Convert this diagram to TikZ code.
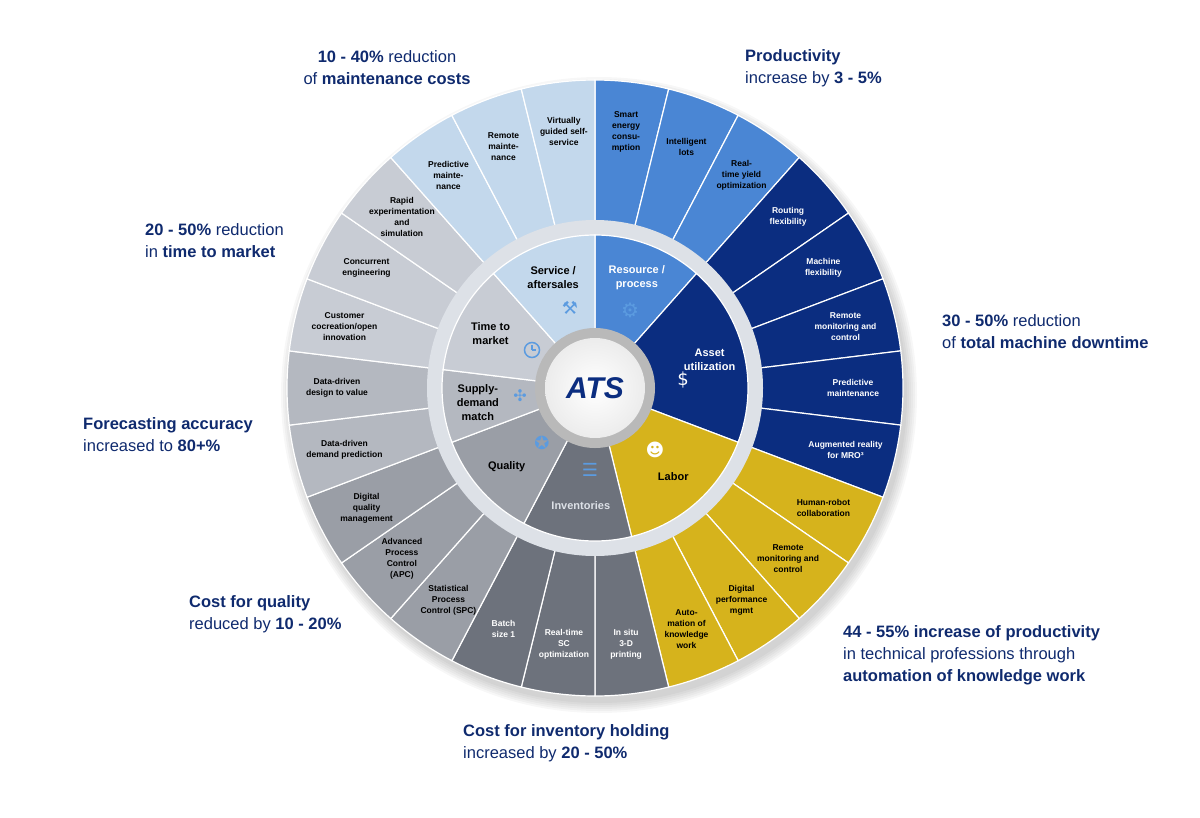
\documentclass[tikz,border=0pt]{standalone}
\usepackage{fontspec}
\setmainfont{Liberation Sans}
\newfontfamily\sym{DejaVu Sans}
\usetikzlibrary{calc}
\definecolor{resc}{HTML}{4A86D4}
\definecolor{asset}{HTML}{0B2D80}
\definecolor{labor}{HTML}{D6B31C}
\definecolor{inv}{HTML}{6D727C}
\definecolor{qual}{HTML}{9A9EA6}
\definecolor{supply}{HTML}{B4B8C0}
\definecolor{tmk}{HTML}{C8CCD4}
\definecolor{serv}{HTML}{C3D8EC}
\definecolor{ringc}{HTML}{DDE1E7}
\definecolor{navy}{HTML}{0F2A6E}
\definecolor{iconb}{HTML}{5B9BE0}
\tikzset{
 seglab/.style={font=\bfseries\fontsize{8.5}{11}\selectfont,align=center,inner sep=0pt},
 catlab/.style={font=\bfseries\fontsize{11}{14}\selectfont,align=center,inner sep=0pt},
 note/.style={font=\fontsize{16.5}{22}\selectfont,text=navy,align=left,anchor=west,inner sep=0pt},
 sep/.style={draw=white,line width=1.2pt}
}
\begin{document}
\begin{tikzpicture}[x=1pt,y=-1pt]
\useasboundingbox (0,0) rectangle (1200,817);
\coordinate (C) at (595,388);
\def\st{13.846}
% shadow
\foreach \k in {1,...,6}
  \fill[black,opacity=0.03] ($(C)+(4,7)$) circle[radius={(306+2*\k)*1pt}];
% outer segments
\foreach \i/\col/\txt/\tc in {
 0/resc/{Smart\\energy\\consu-\\mption}/black,
 1/resc/{Intelligent\\lots}/black,
 2/resc/{Real-\\time yield\\optimization}/black,
 3/asset/{Routing\\flexibility}/white,
 4/asset/{Machine\\flexibility}/white,
 5/asset/{Remote\\monitoring and\\control}/white,
 6/asset/{Predictive\\maintenance}/white,
 7/asset/{Augmented reality\\for MRO³}/white,
 8/labor/{Human-robot\\collaboration}/black,
 9/labor/{Remote\\monitoring and\\control}/black,
 10/labor/{Digital\\performance\\mgmt}/black,
 11/labor/{Auto-\\mation of\\knowledge\\work}/black,
 12/inv/{In situ\\3-D\\printing}/white,
 13/inv/{Real-time\\SC\\optimization}/white,
 14/inv/{Batch\\size 1}/white,
 15/qual/{Statistical\\Process\\Control (SPC)}/black,
 16/qual/{Advanced\\Process\\Control\\(APC)}/black,
 17/qual/{Digital\\quality\\management}/black,
 18/supply/{Data-driven\\demand prediction}/black,
 19/supply/{Data-driven\\design to value}/black,
 20/tmk/{Customer\\cocreation/open\\innovation}/black,
 21/tmk/{Concurrent\\engineering}/black,
 22/tmk/{Rapid\\experimentation\\and\\simulation}/black,
 23/serv/{Predictive\\mainte-\\nance}/black,
 24/serv/{Remote\\mainte-\\nance}/black,
 25/serv/{Virtually\\guided self-\\service}/black}
{
 \pgfmathsetmacro\aA{90-\i*\st}
 \pgfmathsetmacro\aB{90-(\i+1)*\st}
 \pgfmathsetmacro\aM{90-(\i+0.5)*\st}
 \fill[\col,sep] (C) -- ($(C)+(\aA:308pt)$) arc[start angle=\aA,end angle=\aB,radius=308pt] -- cycle;
 \node[seglab,text=\tc] (o\i) at ($(C)+(\aM:258pt)$) {\txt};
}
% ring
\fill[ringc] (C) circle[radius=168pt];
% inner categories
\foreach \s/\n/\col/\txt/\tc/\nm in {
 0/3/resc/{Resource /\\process}/white/cr,
 3/5/asset/{Asset\\utilization}/white/ca,
 8/4/labor/{Labor}/black/cl,
 12/3/inv/{Inventories}/ringc/ci,
 15/3/qual/{Quality}/black/cq,
 18/2/supply/{Supply-\\demand\\match}/black/cs,
 20/3/tmk/{Time to\\market}/black/ct,
 23/3/serv/{Service /\\aftersales}/black/cv}
{
 \pgfmathsetmacro\aA{90-\s*\st}
 \pgfmathsetmacro\aB{90-(\s+\n)*\st}
 \pgfmathsetmacro\aM{90-(\s+0.5*\n)*\st}
 \fill[\col,sep] (C) -- ($(C)+(\aA:153pt)$) arc[start angle=\aA,end angle=\aB,radius=153pt] -- cycle;
 \node[catlab,text=\tc] (\nm) at ($(C)+(\aM:118pt)$) {\txt};
}
% icons
\node[font=\sym\fontsize{20}{20}\selectfont,text=iconb,inner sep=0pt] (i1) at (630,310) {⚙};
\node[font=\sym\fontsize{18}{18}\selectfont,text=white,inner sep=0pt] (i2) at (683,380) {\$};
\node[font=\sym\fontsize{18}{18}\selectfont,text=white,inner sep=0pt] (i3) at (655,450) {☻};
\node[font=\sym\fontsize{18}{18}\selectfont,text=iconb,inner sep=0pt] (i4) at (590,470) {☰};
\node[font=\sym\fontsize{18}{18}\selectfont,text=iconb,inner sep=0pt] (i5) at (542,443) {✪};
\node[font=\sym\fontsize{16}{16}\selectfont,text=iconb,inner sep=0pt] (i6) at (520,396) {✣};
\node[draw=iconb,line width=1.5pt,circle,minimum size=15pt,inner sep=0pt] (i7) at (532,350) {};
\draw[iconb,line width=1.2pt] (i7.center) -- ++(0,-5) (i7.center) -- ++(4,0);
\node[font=\sym\fontsize{18}{18}\selectfont,text=iconb,inner sep=0pt] (i8) at (570,308) {⚒};
% center
\fill[gray!55] (C) circle[radius=60pt];
\shade[inner color=white,outer color=gray!15] (C) circle[radius=50pt];
\node[font=\bfseries\itshape\fontsize{30}{30}\selectfont,text=asset,inner sep=0pt] (logo) at (C) {ATS};
% notes
\node[note,align=center,anchor=center] (n1) at (387,68) {\textbf{10 - 40\%} reduction\\of \textbf{maintenance costs}};
\node[note] (n2) at (745,68) {\textbf{Productivity}\\increase by \textbf{3 - 5\%}};
\node[note] (n3) at (145,241) {\textbf{20 - 50\%} reduction\\in \textbf{time to market}};
\node[note] (n4) at (942,332) {\textbf{30 - 50\%} reduction\\of \textbf{total machine downtime}};
\node[note] (n5) at (83,435) {\textbf{Forecasting accuracy}\\increased to \textbf{80+\%}};
\node[note] (n6) at (189,614) {\textbf{Cost for quality}\\reduced by \textbf{10 - 20\%}};
\node[note] (n7) at (843,655) {\textbf{44 - 55\% increase of productivity}\\in technical professions through\\\textbf{automation of knowledge work}};
\node[note] (n8) at (463,743) {\textbf{Cost for inventory holding}\\increased by \textbf{20 - 50\%}};
\end{tikzpicture}
\end{document}
